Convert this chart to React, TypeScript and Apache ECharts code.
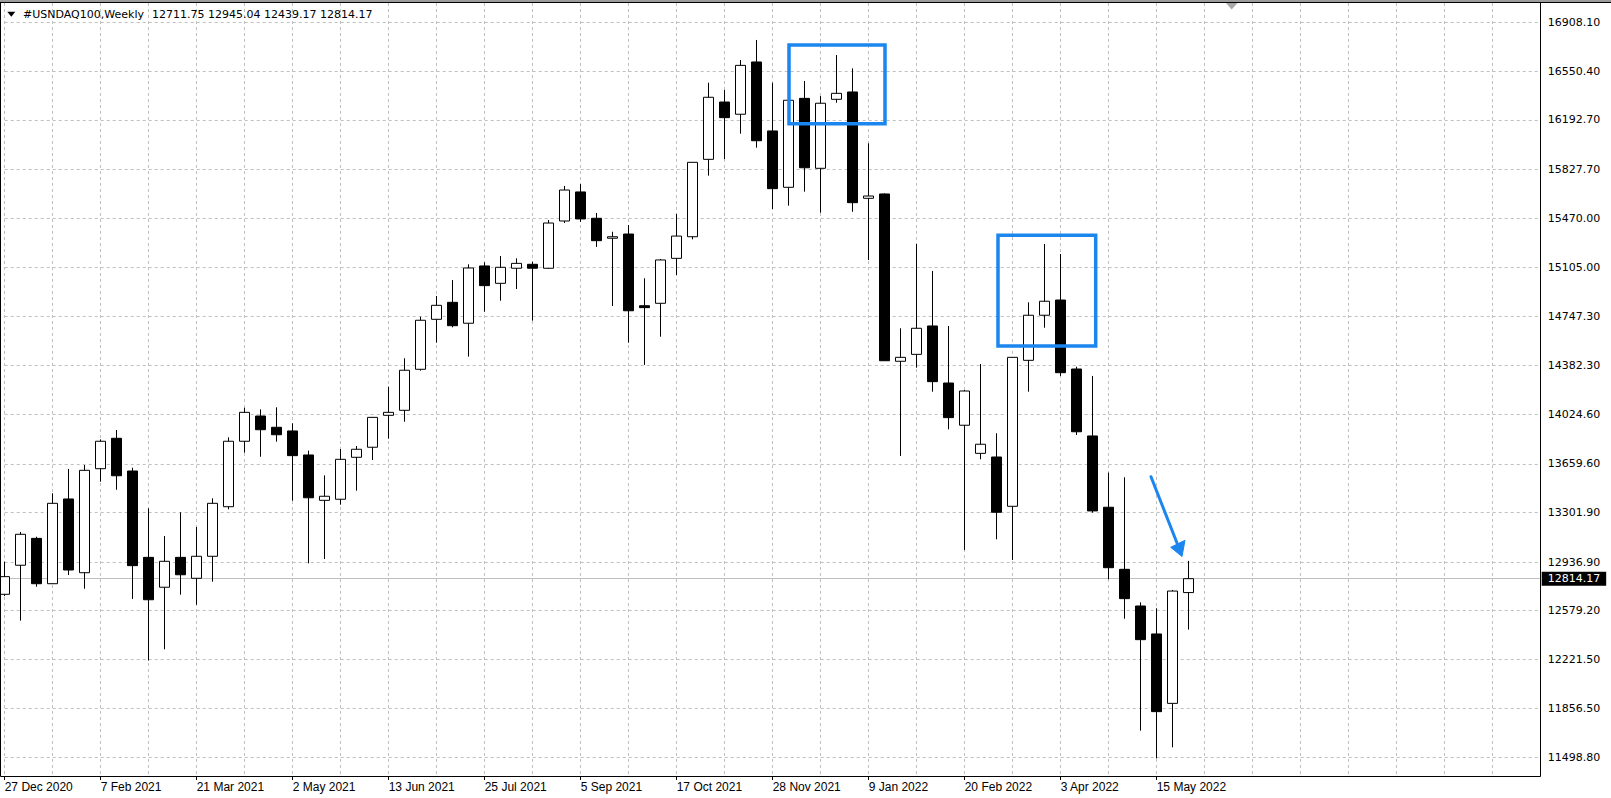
import React, { useEffect, useRef } from 'react';
import * as echarts from 'echarts';

// ---- data (weekly candles, starting week of 27 Dec 2020) ----
const opens = [
  12699, 12913, 13111, 12777, 13401, 12858, 13624, 13848, 13607, 12971,
  12751, 12971, 12817, 12979, 13344, 13826, 14012, 13929, 13902, 13725,
  13391, 13399, 13708, 13782, 14017, 14054, 14356, 14724, 14849, 14695,
  15117, 14989, 15100, 15129, 15100, 15448, 15662, 15468, 15321, 15352,
  14824, 14842, 15173, 15332, 15902, 16324, 16234, 16619, 16111, 15696,
  16351, 15836, 16344, 16398, 15615, 15647, 14415, 14466, 14675, 14255,
  13944, 13737, 13710, 13347, 14422, 14754, 14866, 14358, 13865, 13340,
  12883, 12613, 12407, 11896, 12711.75,
];
const closes = [
  12829, 13141, 12777, 13369, 12878, 13612, 13826, 13572, 12910, 12659,
  12942, 12843, 12979, 13369, 13826, 14039, 13911, 13874, 13720, 13410,
  13421, 13693, 13767, 14002, 14039, 14349, 14717, 14827, 14677, 15102,
  14972, 15107, 15136, 15100, 15433, 15676, 15463, 15303, 15332, 14787,
  14810, 15161, 15337, 15880, 16359, 16209, 16594, 16039, 15686, 16337,
  15840, 16315, 16388, 15583, 15632, 14419, 14444, 14658, 14265, 14000,
  14196, 13804, 13303, 14444, 14754, 14857, 14331, 13896, 13313, 12895,
  12667, 12365, 11835, 12723, 12814.17,
];
const lows = [
  12686, 12505, 12755, 12775, 12841, 12740, 13528, 13469, 12665, 12211,
  12294, 12696, 12622, 12792, 13325, 13742, 13712, 13823, 13388, 12927,
  12959, 13359, 13462, 13688, 13845, 13970, 14346, 14552, 14665, 14449,
  14780, 14861, 14947, 14714, 15095, 15433, 15441, 15257, 14822, 14552,
  14388, 14596, 15050, 15313, 15782, 15904, 16091, 15988, 15536, 15561,
  15664, 15509, 16319, 15516, 15161, 14417, 13718, 14368, 14191, 13914,
  13025, 13693, 13104, 12952, 14191, 14662, 14307, 13872, 13300, 12810,
  12519, 11695, 11491, 11572, 12439.17,
];
const highs = [
  12939, 13158, 13123, 13443, 13622, 13651, 13840, 13909, 13631, 13332,
  13128, 13303, 13195, 13406, 13855, 14073, 14061, 14076, 13958, 13757,
  13575, 13769, 13791, 14005, 14228, 14437, 14743, 14896, 15013, 15129,
  15144, 15190, 15173, 15148, 15455, 15706, 15720, 15507, 15369, 15418,
  15026, 15168, 15500, 15882, 16466, 16413, 16633, 16781, 16466, 16398,
  16479, 16368, 16670, 16572, 16020, 15652, 14658, 15279, 15080, 14675,
  14204, 14395, 13885, 14446, 14849, 15279, 15205, 14375, 14307, 13595,
  13561, 12640, 12596, 12731, 12945.04,
];

// price-scale tick labels (right side)
const priceTicks = [
  16908.1, 16550.4, 16192.7, 15827.7, 15470.0, 15105.0, 14747.3, 14382.3,
  14024.6, 13659.6, 13301.9, 12936.9, 12579.2, 12221.5, 11856.5, 11498.8,
];
// date labels on the time axis
const dateTicks = [
  '27 Dec 2020', '7 Feb 2021', '21 Mar 2021', '2 May 2021', '13 Jun 2021',
  '25 Jul 2021', '5 Sep 2021', '17 Oct 2021', '28 Nov 2021', '9 Jan 2022',
  '20 Feb 2022', '3 Apr 2022', '15 May 2022',
];
const symbolTitle = '#USNDAQ100,Weekly';
const TOTAL_SLOTS = 97; // bars + empty right margin (chart shift)

const MONTHS = ['Jan', 'Feb', 'Mar', 'Apr', 'May', 'Jun', 'Jul', 'Aug', 'Sep', 'Oct', 'Nov', 'Dec'];
const START = Date.UTC(2020, 11, 27);
const categories = Array.from({ length: TOTAL_SLOTS }, (_, i) => {
  const d = new Date(START + i * 7 * 86400000);
  return `${d.getUTCDate()} ${MONTHS[d.getUTCMonth()]} ${d.getUTCFullYear()}`;
});

const candleData = opens.map((o, i) => [o, closes[i], lows[i], highs[i]]);
const last = opens.length - 1;
const lastPrice = closes[last];
const headerValues = [opens[last], highs[last], lows[last], closes[last]].map((v) => v.toFixed(2)).join(' ');

const BLUE = '#1a86ee';
const GRID_COLOR = '#c0c0c0';
const PRICE_FONT = 'DejaVu Sans';

export default function App() {
  const ref = useRef<HTMLDivElement>(null);
  useEffect(() => {
    if (!ref.current) return;
    const chart = echarts.init(ref.current, null, { renderer: 'svg', width: 1611, height: 798 });
    const showDate = (i: number) => dateTicks.includes(categories[i]);
    const option: any = {
      animation: false,
      backgroundColor: '#ffffff',
      grid: { left: 4.7, right: 70.3, top: 3, bottom: 22, outerBoundsMode: 'none', containLabel: false },
      xAxis: {
        type: 'category',
        data: categories,
        boundaryGap: false,
        axisLine: { show: false },
        axisTick: { show: true, interval: (i: number) => showDate(i), length: 4, lineStyle: { color: '#000' } },
        axisLabel: {
          show: true,
          interval: (i: number) => showDate(i),
          align: 'left',
          margin: 5,
          color: '#000',
          fontFamily: 'Liberation Sans',
          fontSize: 12,
        },
        splitLine: {
          show: true,
          interval: (i: number) => i % 3 === 0,
          lineStyle: { color: GRID_COLOR, width: 1, type: [3, 3] },
        },
      },
      yAxis: {
        type: 'value',
        position: 'right',
        min: 11361.1,
        max: 17053.2,
        axisLine: { show: false },
        axisTick: { show: false },
        axisLabel: { show: false },
        splitLine: { show: false },
      },
      series: [
        {
          type: 'line',
          data: [],
          z: 1,
          silent: true,
          markLine: {
            z: 1,
            silent: true,
            symbol: ['none', 'none'],
            animation: false,
            data: [
              ...priceTicks.map((v) => ({
                yAxis: v,
                lineStyle: { color: GRID_COLOR, width: 1, type: [3, 3] },
                label: {
                  show: true,
                  position: 'end',
                  distance: 7,
                  formatter: (p: any) => Number(p.value).toFixed(2),
                  color: '#000',
                  fontFamily: PRICE_FONT,
                  fontSize: 11,
                },
              })),
              {
                yAxis: lastPrice,
                lineStyle: { color: GRID_COLOR, width: 1, type: 'solid' },
                label: {
                  show: true,
                  position: 'end',
                  distance: 1,
                  formatter: (p: any) => Number(p.value).toFixed(2),
                  color: '#fff',
                  backgroundColor: '#000',
                  padding: [2, 6, 1, 6],
                  fontFamily: PRICE_FONT,
                  fontSize: 11,
                },
              },
            ],
          },
        },
        {
          type: 'candlestick',
          z: 10,
          data: candleData,
          barWidth: 10,
          clip: true,
          itemStyle: {
            color: '#ffffff',
            color0: '#000000',
            borderColor: '#000000',
            borderColor0: '#000000',
            borderWidth: 1,
          },
        },
      ],
      graphic: {
        elements: [
          { type: 'rect', silent: true, z: 100, shape: { x: 0, y: 0, width: 1611, height: 2 }, style: { fill: '#9c9c9c' } },
          { type: 'line', silent: true, z: 100, shape: { x1: 0, y1: 2.5, x2: 1611, y2: 2.5 }, style: { stroke: '#000', lineWidth: 1 } },
          {
            type: 'polyline', silent: true, z: 100,
            shape: { points: [[0.5, 2.5], [0.5, 776.5], [1540.5, 776.5], [1540.5, 2.5]] },
            style: { stroke: '#000', lineWidth: 1, fill: 'none' },
          },
          { type: 'polygon', silent: true, z: 100, shape: { points: [[1226, 3], [1237.5, 3], [1231.7, 9.5]] }, style: { fill: '#a8a8a8' } },
          // header
          { type: 'polygon', silent: true, z: 100, shape: { points: [[7.3, 11.7], [15.3, 11.7], [11.3, 16.7]] }, style: { fill: '#000' } },
          { type: 'text', silent: true, z: 100, x: 23, y: 14, style: { text: symbolTitle, fill: '#000', font: `11px "${PRICE_FONT}"`, verticalAlign: 'middle' } },
          { type: 'text', silent: true, z: 100, x: 152, y: 14, style: { text: headerValues, fill: '#000', font: `11px "${PRICE_FONT}"`, verticalAlign: 'middle' } },
          // annotations
          { type: 'rect', silent: true, z: 100, shape: { x: 789, y: 45, width: 96, height: 78.7 }, style: { fill: 'none', stroke: BLUE, lineWidth: 3.5 } },
          { type: 'rect', silent: true, z: 100, shape: { x: 998, y: 235.3, width: 97.7, height: 110.7 }, style: { fill: 'none', stroke: BLUE, lineWidth: 3.5 } },
          { type: 'line', silent: true, z: 100, shape: { x1: 1151, y1: 476.7, x2: 1177, y2: 543 }, style: { stroke: BLUE, lineWidth: 3, lineCap: 'round' } },
          { type: 'polygon', silent: true, z: 100, shape: { points: [[1170.7, 547.3], [1185, 540.3], [1182, 556.5]] }, style: { fill: BLUE, stroke: BLUE, lineWidth: 1 } },
        ],
      },
    };
    chart.setOption(option);
    return () => chart.dispose();
  }, []);
  return (
    <div
      ref={ref}
      style={{ position: 'fixed', left: 0, top: 0, width: 1611, height: 798, background: '#fff' }}
    />
  );
}
